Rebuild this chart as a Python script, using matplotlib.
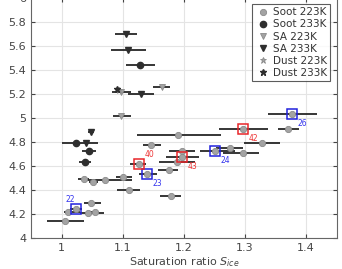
import matplotlib
matplotlib.use('Agg')
import matplotlib.pyplot as plt
import numpy as np

# Soot 223K (gray circles): x, y and error bar limits
soot223_x = [1.005, 1.010, 1.024, 1.048, 1.044, 1.055, 1.037, 1.052, 1.071, 1.101, 1.110,
             1.126, 1.140, 1.147, 1.175, 1.179, 1.188, 1.197, 1.197, 1.191, 1.251, 1.275,
             1.297, 1.297, 1.328, 1.370, 1.377]
soot223_y = [4.144, 4.219, 4.239, 4.289, 4.206, 4.217, 4.489, 4.469, 4.483, 4.511, 4.397,
             4.614, 4.536, 4.772, 4.567, 4.350, 4.631, 4.678, 4.725, 4.858, 4.725, 4.747,
             4.711, 4.906, 4.789, 4.906, 5.033]
soot223_lo = [0.976, 1.004, 1.014, 1.036, 1.030, 1.045, 1.027, 1.045, 1.040, 1.089, 1.091,
              1.112, 1.126, 1.134, 1.158, 1.161, 1.160, 1.171, 1.176, 1.123, 1.226, 1.253,
              1.264, 1.258, 1.299, 1.354, 1.338]
soot223_hi = [1.036, 1.030, 1.033, 1.065, 1.070, 1.060, 1.045, 1.060, 1.115, 1.115, 1.128,
              1.138, 1.156, 1.162, 1.191, 1.196, 1.218, 1.225, 1.218, 1.260, 1.283, 1.297,
              1.323, 1.337, 1.358, 1.388, 1.418]

# Soot 233K (dark circles)
soot233_x = [1.023, 1.045, 1.038, 1.129]
soot233_y = [4.794, 4.722, 4.631, 5.442]
soot233_lo = [1.018, 1.033, 1.028, 1.105]
soot233_hi = [1.028, 1.057, 1.048, 1.153]

# SA 223K (gray triangles)
sa223_x = [1.097, 1.164, 1.098]
sa223_y = [5.219, 5.256, 5.017]
sa223_lo = [1.082, 1.150, 1.084]
sa223_hi = [1.114, 1.178, 1.113]

# SA 233K (dark triangles)
sa233_x = [1.048, 1.040, 1.106, 1.109, 1.130]
sa233_y = [4.886, 4.794, 5.697, 5.567, 5.198]
sa233_lo = [1.043, 1.000, 1.088, 1.081, 1.108]
sa233_hi = [1.053, 1.060, 1.123, 1.138, 1.152]

# Dust
dust223_x = [1.094]
dust223_y = [5.232]
dust233_x = [1.090]
dust233_y = [5.242]

# highlighted experiments (boxes)
blue_x = [1.024, 1.140, 1.251, 1.377]
blue_y = [4.239, 4.536, 4.725, 5.033]
blue_lab = ['22', '23', '24', '26']
red_x = [1.126, 1.297, 1.197]
red_y = [4.614, 4.906, 4.678]
red_lab = ['40', '42', '43']

light = '#a3a3a3'
dark = '#2e2e2e'
barc = '#262626'

fig = plt.figure(figsize=(3.42, 2.69), dpi=100)
ax = fig.add_axes([0.0906, 0.1152, 0.8939, 0.8922])


def bars(xs, ys, lo, hi):
    xs = np.array(xs)
    err = [xs - np.array(lo), np.array(hi) - xs]
    ax.errorbar(xs, ys, xerr=err, fmt='none', ecolor=barc, elinewidth=1.3, capsize=0, zorder=2)


bars(soot223_x, soot223_y, soot223_lo, soot223_hi)
bars(soot233_x, soot233_y, soot233_lo, soot233_hi)
bars(sa223_x, sa223_y, sa223_lo, sa223_hi)
bars(sa233_x, sa233_y, sa233_lo, sa233_hi)

ax.plot(soot223_x, soot223_y, 'o', ms=4.5, mfc=light, mec='#8a8a8a', mew=0.6, ls='none', zorder=3, label='Soot 223K')
ax.plot(soot233_x, soot233_y, 'o', ms=4.5, mfc=dark, mec=dark, ls='none', zorder=3, label='Soot 233K')
ax.plot(sa223_x, sa223_y, 'v', ms=4.5, mfc=light, mec='#8a8a8a', mew=0.6, ls='none', zorder=3, label='SA 223K')
ax.plot(sa233_x, sa233_y, 'v', ms=4.5, mfc=dark, mec=dark, ls='none', zorder=3, label='SA 233K')
ax.plot(dust223_x, dust223_y, '*', ms=5, mfc=light, mec='#8a8a8a', mew=0.6, ls='none', zorder=3, label='Dust 223K')
ax.plot(dust233_x, dust233_y, '*', ms=5, mfc=dark, mec=dark, ls='none', zorder=3, label='Dust 233K')

ax.plot(blue_x, blue_y, 's', ms=7, mfc='none', mec='#2222dd', mew=1.1, ls='none', zorder=4)
ax.plot(red_x, red_y, 's', ms=7, mfc='none', mec='#e8262a', mew=1.1, ls='none', zorder=4)

# number labels next to the boxes
offs = {'22': (-8, 4), '23': (4, -10), '24': (4, -10), '26': (4, -10),
        '40': (4, 4), '42': (4, -10), '43': (4, -10)}
for x, y, t in zip(blue_x, blue_y, blue_lab):
    ax.annotate(t, (x, y), xytext=offs[t], textcoords='offset points', fontsize=5.5,
                color='#3333ee', ha='left', va='bottom')
for x, y, t in zip(red_x, red_y, red_lab):
    ax.annotate(t, (x, y), xytext=offs[t], textcoords='offset points', fontsize=5.5,
                color='#ee3333', ha='left', va='bottom')

ax.set_xlim(0.95, 1.45)
ax.set_ylim(4, 6)
ax.set_xticks([1, 1.1, 1.2, 1.3, 1.4])
ax.set_yticks(np.arange(4, 6.01, 0.2))
ax.yaxis.set_major_formatter(matplotlib.ticker.FormatStrFormatter('%g'))
ax.xaxis.set_major_formatter(matplotlib.ticker.FormatStrFormatter('%g'))
ax.tick_params(direction='in', top=True, right=True, labelsize=8, colors='#444444', length=3)
ax.grid(True, color='#e4e4e4', lw=0.8)
ax.set_axisbelow(True)
for s in ax.spines.values():
    s.set_color('#666666')
    s.set_linewidth(0.8)

ax.set_xlabel('Saturation ratio $S_{ice}$', fontsize=8, color='#444444', labelpad=2)
# the y label sits mostly outside the figure, as in the cropped original
ax.set_ylabel('Ice-active site density ln $n_{e}$', fontsize=8, color='#777777')
ax.yaxis.set_label_coords(-0.093, 0.5)

leg = ax.legend(loc='upper right', fontsize=7.5, frameon=True, fancybox=False, handletextpad=0.3,
                labelspacing=0.2, borderpad=0.3, handlelength=1.4, borderaxespad=0.6)
leg.get_frame().set_edgecolor('#333333')
leg.get_frame().set_linewidth(0.8)
for t in leg.get_texts():
    t.set_color('#333333')

fig.savefig('out.png', dpi=100)
